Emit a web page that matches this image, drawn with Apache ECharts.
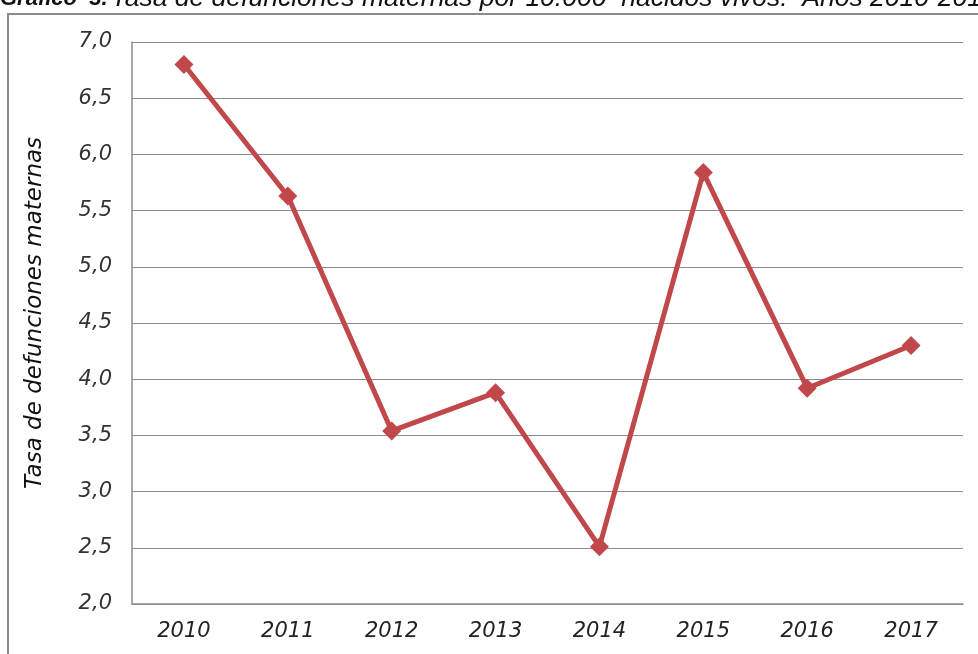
<!DOCTYPE html>
<html>
<head>
<meta charset="utf-8">
<script src="https://cdn.jsdelivr.net/npm/echarts@6/dist/echarts.min.js"></script>
<style>
html,body{margin:0;padding:0;background:#fff;}
#c{width:978px;height:654px;}
</style>
</head>
<body>
<div id="c"></div>
<script>
const categories = ['2010','2011','2012','2013','2014','2015','2016','2017'];
const rates = [6.80, 5.63, 3.54, 3.88, 2.51, 5.84, 3.92, 4.30];
const yMin = 2.0, yMax = 7.0, yStep = 0.5;

const chart = echarts.init(document.getElementById('c'));
chart.setOption({
  backgroundColor: '#ffffff',
  animation: false,
  graphic: [
    {
      type: 'rect',
      shape: { x: 8, y: 14, width: 1100, height: 800 },
      style: { fill: 'none', stroke: '#8c8c8c', lineWidth: 2 },
      silent: true
    },
    {
      type: 'text',
      x: 0, y: -1.5,
      style: {
        text: '{b|Gráfico  3.} {r|Tasa de defunciones maternas por 10.000  nacidos vivos.  Años 2010-2017}',
        verticalAlign: 'middle',
        rich: {
          b: { fontFamily: 'Liberation Sans', fontStyle: 'italic', fontWeight: 'bold', fontSize: 22, fill: '#111' },
          r: { fontFamily: 'Liberation Sans', fontStyle: 'italic', fontSize: 26.5, fill: '#111' }
        }
      },
      silent: true
    }
  ],
  grid: { left: 132, right: 15, top: 42, bottom: 50, containLabel: false },
  xAxis: {
    type: 'category',
    data: categories,
    boundaryGap: true,
    axisLine: { show: true, lineStyle: { color: '#8c8c8c', width: 1.5 } },
    axisTick: { show: false },
    axisLabel: {
      fontFamily: 'DejaVu Sans', fontStyle: 'italic', fontSize: 21,
      color: '#222', margin: 17
    }
  },
  yAxis: {
    type: 'value',
    min: yMin, max: yMax, interval: yStep,
    name: 'Tasa de defunciones maternas',
    nameLocation: 'middle',
    nameGap: 85,
    nameRotate: 90,
    nameTextStyle: { fontFamily: 'DejaVu Sans', fontStyle: 'italic', fontSize: 23, color: '#111', padding: [0, 0, 0, 20] },
    axisLine: { show: true, lineStyle: { color: '#8c8c8c', width: 1.5 } },
    axisTick: { show: false },
    splitLine: { show: true, lineStyle: { color: '#8c8c8c', width: 1.2 } },
    axisLabel: {
      fontFamily: 'DejaVu Sans', fontStyle: 'italic', fontSize: 21,
      color: '#333', margin: 20,
      formatter: v => v.toFixed(1).replace('.', ',')
    }
  },
  series: [{
    type: 'line',
    data: rates,
    symbol: 'diamond',
    symbolSize: 19,
    lineStyle: { color: '#c0474a', width: 5 },
    itemStyle: { color: '#c0474a' }
  }]
});
</script>
</body>
</html>
